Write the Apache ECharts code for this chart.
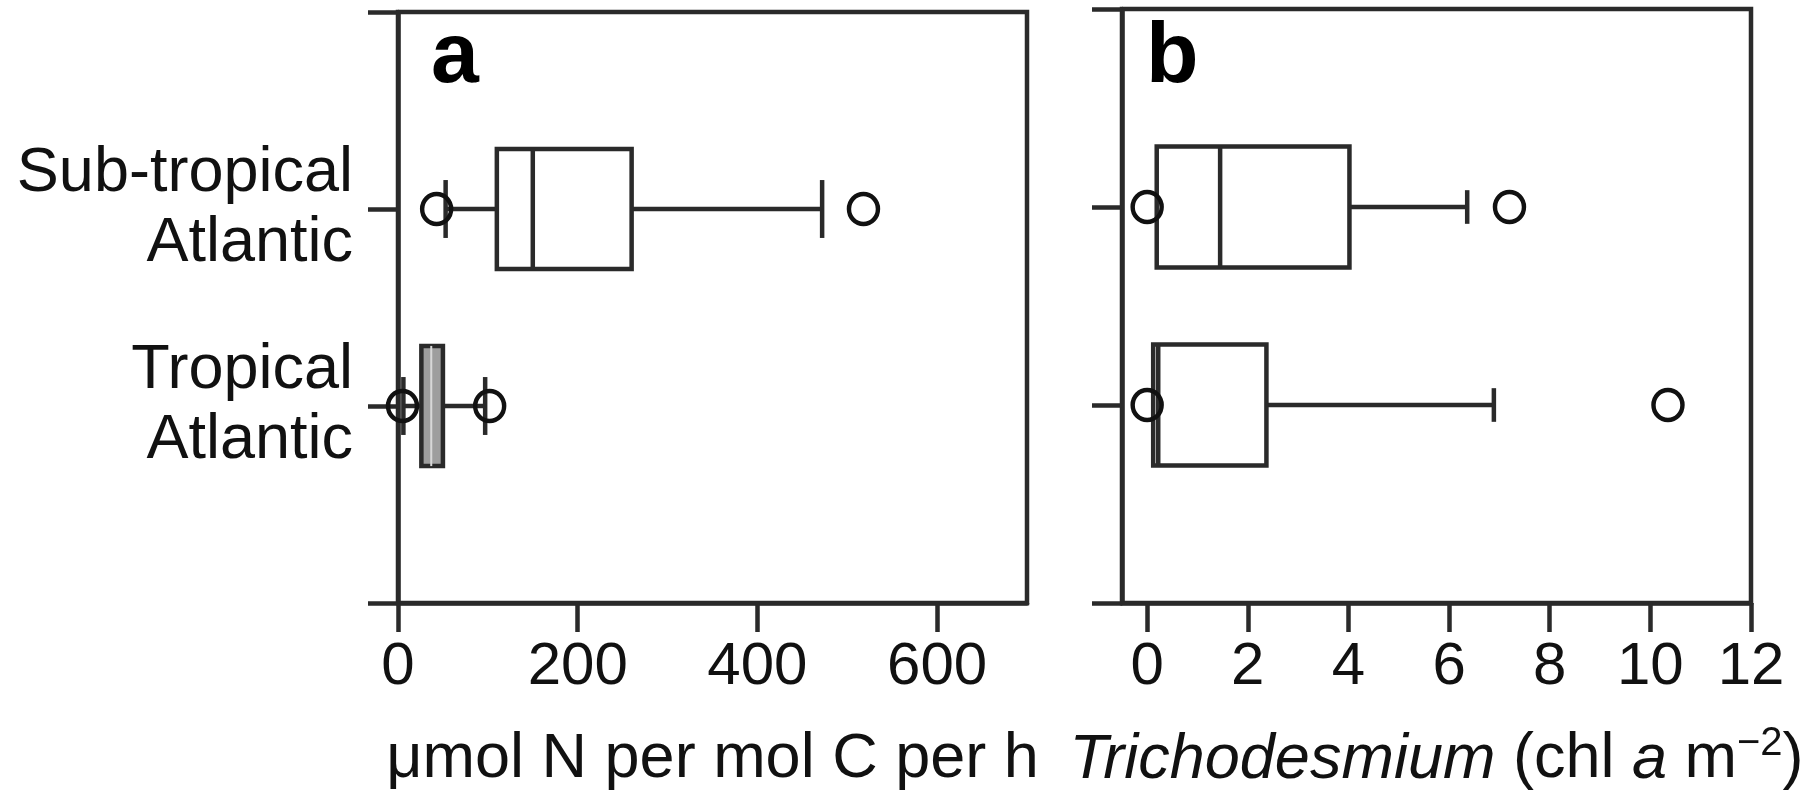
<!DOCTYPE html>
<html>
<head>
<meta charset="utf-8">
<script src="https://cdn.jsdelivr.net/npm/echarts@6/dist/echarts.min.js"></script>
<style>
  html, body { margin: 0; padding: 0; background: #fff; }
  #chart { width: 1814px; height: 801px; }
</style>
</head>
<body>
<div id="chart"></div>
<script>
// Row labels on the category axis (blank rows pad the top and bottom edges)
const rowLabels = ['', 'Sub-tropical\nAtlantic', 'Tropical\nAtlantic', ''];

// Panel a: N2 fixation rate, five-number summaries [low whisker, Q1, median, Q3, high whisker]
const rateSummary = [
  [53, 110, 150, 260, 472],   // Sub-tropical Atlantic
  [6, 26, 37, 50, 97]         // Tropical Atlantic
];
// Panel a outliers: [value, row]
const rateOutliers = [[43, 1], [518, 1], [5, 2], [102, 2]];
const rateTicks = [0, 200, 400, 600];

// Panel b: Trichodesmium chlorophyll a, five-number summaries
const trichoSummary = [
  [0.19, 0.19, 1.45, 4.02, 6.36],  // Sub-tropical Atlantic
  [0.12, 0.12, 0.22, 2.37, 6.89]   // Tropical Atlantic
];
const trichoOutliers = [[0, 1], [7.2, 1], [0, 2], [10.35, 2]];
const trichoTicks = [0, 2, 4, 6, 8, 10, 12];

const INK = '#2a2a2a';
const TEXT = '#111';
const FONT = '"Liberation Sans", Arial, Helvetica, sans-serif';
const LW = 4.5;

// rows in the category axis start at index 1
function toBoxData(summary) {
  return summary.map((s, i) => [i + 1].concat(s));
}

// Horizontal box-and-whisker drawn through the grid's own scales
function makeBoxRenderer(capFrac, fills) {
  return function (params, api) {
    const row = api.value(0);
    const low = api.value(1), q1 = api.value(2), med = api.value(3),
          q3 = api.value(4), high = api.value(5);
    const band = api.size([0, 1])[1];
    const halfBox = band * 0.305;
    const halfCap = band * capFrac;
    const y = api.coord([0, row])[1];
    const x = v => api.coord([v, row])[0];
    const stroke = { stroke: INK, lineWidth: LW, fill: null };
    const fill = fills[params.dataIndex] || '#fff';
    const children = [];
    if (low < q1) {
      children.push({ type: 'line', shape: { x1: x(low), y1: y, x2: x(q1), y2: y }, style: stroke });
      children.push({ type: 'line', shape: { x1: x(low), y1: y - halfCap, x2: x(low), y2: y + halfCap }, style: stroke });
    }
    if (high > q3) {
      children.push({ type: 'line', shape: { x1: x(q3), y1: y, x2: x(high), y2: y }, style: stroke });
      children.push({ type: 'line', shape: { x1: x(high), y1: y - halfCap, x2: x(high), y2: y + halfCap }, style: stroke });
    }
    children.push({
      type: 'rect',
      shape: { x: x(q1), y: y - halfBox, width: x(q3) - x(q1), height: halfBox * 2 },
      style: { stroke: INK, lineWidth: LW, fill: fill }
    });
    children.push({
      type: 'line',
      shape: { x1: x(med), y1: y - halfBox, x2: x(med), y2: y + halfBox },
      style: fill === '#fff' ? stroke : { stroke: '#d8d8d8', lineWidth: 2 }
    });
    return { type: 'group', children: children };
  };
}

function valueAxis(gridIndex, min, max, ticks, name) {
  return {
    type: 'value', gridIndex: gridIndex, min: min, max: max,
    splitLine: { show: false },
    axisLine: { show: true, onZero: false, lineStyle: { color: INK, width: LW } },
    axisTick: { show: true, length: 29, customValues: ticks, lineStyle: { color: INK, width: LW } },
    axisLabel: {
      customValues: ticks, margin: 34, fontSize: 60, color: TEXT, fontFamily: FONT
    },
    name: name, nameLocation: 'middle', nameGap: 121,
    nameTextStyle: {
      fontSize: 63, color: TEXT, fontFamily: FONT, lineHeight: 72,
      rich: {
        it: { fontStyle: 'italic', fontSize: 63, fontFamily: FONT, color: TEXT, lineHeight: 72 },
        sup: { fontSize: 40, fontFamily: FONT, color: TEXT, lineHeight: 72, verticalAlign: 'top', padding: [0, 0, 24, 0] }
      }
    }
  };
}

function rowAxis(gridIndex, showLabels) {
  return {
    type: 'category', gridIndex: gridIndex, data: rowLabels,
    inverse: true, boundaryGap: false,
    axisLine: { show: true, onZero: false, lineStyle: { color: INK, width: LW } },
    axisTick: { show: true, interval: 0, length: 30, lineStyle: { color: INK, width: LW } },
    axisLabel: {
      show: showLabels, interval: 0, margin: 45, fontSize: 63, lineHeight: 70,
      color: TEXT, fontFamily: FONT, align: 'right', padding: [0, 0, 24, 0]
    },
    splitLine: { show: false }
  };
}

function outlierSeries(idx, data) {
  return {
    type: 'scatter', xAxisIndex: idx, yAxisIndex: idx, data: data,
    symbol: 'circle', symbolSize: [29, 30], z: 3,
    itemStyle: { color: 'rgba(0,0,0,0)', borderColor: '#111', borderWidth: 4.5, opacity: 1 }
  };
}

const chart = echarts.init(document.getElementById('chart'), null, { renderer: 'canvas' });
chart.setOption({
  animation: false,
  backgroundColor: '#fff',
  grid: [
    { left: 398, top: 9, width: 629, height: 603, show: true, borderColor: INK, borderWidth: LW, backgroundColor: 'transparent' },
    { left: 1122, top: 9, width: 629, height: 603, show: true, borderColor: INK, borderWidth: LW, backgroundColor: 'transparent' }
  ],
  title: [
    { text: 'a', left: 426, top: 10, textStyle: { fontSize: 86, fontWeight: 'bold', color: '#000', fontFamily: FONT } },
    { text: 'b', left: 1141, top: 10, textStyle: { fontSize: 86, fontWeight: 'bold', color: '#000', fontFamily: FONT } }
  ],
  xAxis: [
    valueAxis(0, 0, 700, rateTicks, '\u03bcmol N per mol C per h'),
    valueAxis(1, -0.5, 12, trichoTicks, '{it|Trichodesmium} (chl {it|a} m{sup|\u22122})')
  ],
  yAxis: [rowAxis(0, true), rowAxis(1, false)],
  series: [
    {
      type: 'custom', xAxisIndex: 0, yAxisIndex: 0,
      renderItem: makeBoxRenderer(0.147, ['#fff', '#9e9e9e']),
      encode: { x: [1, 2, 3, 4, 5], y: 0 },
      data: toBoxData(rateSummary), z: 2
    },
    outlierSeries(0, rateOutliers),
    {
      type: 'custom', xAxisIndex: 1, yAxisIndex: 1,
      renderItem: makeBoxRenderer(0.085, ['#fff', '#fff']),
      encode: { x: [1, 2, 3, 4, 5], y: 0 },
      data: toBoxData(trichoSummary), z: 2
    },
    outlierSeries(1, trichoOutliers)
  ]
});
</script>
</body>
</html>
